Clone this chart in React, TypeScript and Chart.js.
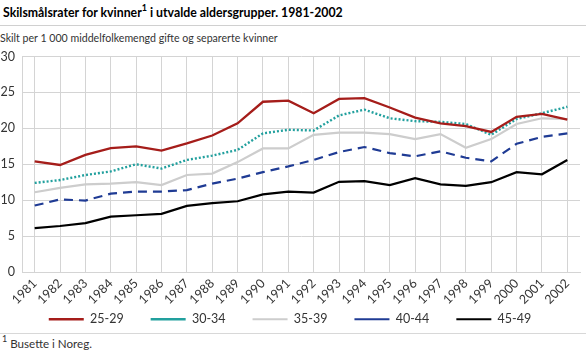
import React, { useEffect, useRef } from "react";
import { Chart, registerables } from "chart.js";

Chart.register(...registerables);

const years = ["1981","1982","1983","1984","1985","1986","1987","1988","1989","1990","1991","1992","1993","1994","1995","1996","1997","1998","1999","2000","2001","2002"];
const age2529 = [15.4,14.9,16.3,17.25,17.5,16.9,17.9,19.0,20.7,23.7,23.85,22.1,24.1,24.2,22.9,21.5,20.7,20.3,19.5,21.6,22.0,21.2];
const age3034 = [12.4,12.8,13.5,14.0,15.0,14.4,15.6,16.2,17.0,19.3,19.8,19.7,21.8,22.6,21.4,21.0,20.9,20.6,19.1,21.3,22.1,23.0];
const age3539 = [11.1,11.7,12.2,12.3,12.5,12.1,13.5,13.7,15.3,17.2,17.2,19.1,19.4,19.4,19.2,18.5,19.2,17.3,18.5,20.6,21.4,21.3];
const age4044 = [9.25,10.1,9.95,10.9,11.2,11.2,11.4,12.3,13.0,13.9,14.7,15.6,16.7,17.4,16.55,16.1,16.8,15.9,15.4,17.85,18.8,19.3];
const age4549 = [6.1,6.4,6.8,7.7,7.9,8.1,9.2,9.6,9.85,10.8,11.2,11.05,12.55,12.65,12.1,13.05,12.2,12.0,12.5,13.9,13.6,15.6];
const yTicks = [0, 5, 10, 15, 20, 25, 30];

const FONT = "Lato, 'Open Sans', 'DejaVu Sans', sans-serif";

// Places the legend row a fixed distance below the plot area.
const legendPlace = {
  id: "legendPlace",
  afterLayout(chart: any) {
    const lg = chart.legend;
    if (!lg) return;
    const pad = lg.options.labels.padding;
    const top = chart.chartArea.bottom + 41 - pad;
    lg.top = top;
    lg.height = 70;
    lg.bottom = top + 70;
  },
};

export default function App() {
  const ref = useRef<HTMLCanvasElement>(null);
  useEffect(() => {
    const ctx = ref.current!;
    const mk = (label: string, data: number[], color: string, dash: number[], width: number) => ({
      label, data, borderColor: color, backgroundColor: color, borderDash: dash, borderWidth: width,
      pointRadius: 0, pointHoverRadius: 0, tension: 0, fill: false,
    });
    const chart = new Chart(ctx, {
      type: "line",
      data: {
        labels: years,
        datasets: [
          mk("25-29", age2529, "#a51d1a", [], 2.3),
          mk("30-34", age3034, "#22a09e", [2, 2], 2.4),
          mk("35-39", age3539, "#cdcdcd", [], 2.2),
          mk("40-44", age4044, "#1f3b94", [9, 6], 2.2),
          mk("45-49", age4549, "#000000", [], 2.2),
        ],
      },
      plugins: [legendPlace],
      options: {
        animation: false,
        responsive: false,
        maintainAspectRatio: false,
        layout: { padding: { top: 3, right: 6, left: 0, bottom: 0 } },
        plugins: {
          title: { display: false },
          tooltip: { enabled: false },
          legend: {
            position: "bottom",
            maxHeight: 20,
            labels: {
              usePointStyle: true,
              pointStyle: "line",
              pointStyleWidth: 35,
              color: "#333",
              font: { family: FONT, size: 12.5 },
              padding: 27,
            },
          },
        },
        scales: {
          x: {
            offset: true,
            afterFit: (s: any) => { s.height = 36; },
            grid: { color: "#d4d4d4", offset: false, drawTicks: false, lineWidth: 1 },
            border: { color: "#d4d4d4" },
            ticks: {
              color: "#333",
              font: { family: FONT, size: 12.5 },
              minRotation: 45,
              maxRotation: 45,
              padding: 4,
              autoSkip: false,
            },
          },
          y: {
            min: 0,
            max: 30,
            afterFit: (s: any) => { s.width = 22; },
            afterBuildTicks: (s: any) => { s.ticks = yTicks.map((v) => ({ value: v })); },
            grid: { color: "#d4d4d4", drawTicks: false, lineWidth: 1 },
            border: { color: "#d4d4d4" },
            ticks: { color: "#333", font: { family: FONT, size: 12.5 }, padding: 7 },
          },
        },
      },
    });
    return () => chart.destroy();
  }, []);

  return (
    <div style={{ position: "fixed", left: 0, top: 0, width: 586, height: 354, overflow: "hidden", background: "#fff", fontFamily: FONT, color: "#000" }}>
      <div style={{ position: "absolute", left: 3, top: 5, fontSize: 12.3, fontWeight: 700, whiteSpace: "nowrap", lineHeight: "16px" }}>
        Skilsmålsrater for kvinner<sup style={{ fontSize: 9, verticalAlign: "top", lineHeight: "10px", position: "relative", top: -2 }}>1</sup> i utvalde aldersgrupper. 1981-2002
      </div>
      <div style={{ position: "absolute", left: 0, top: 25, width: 586, height: 1, background: "#d0d0d0" }} />
      <div style={{ position: "absolute", left: 0, top: 31, fontSize: 10.6, color: "#333", whiteSpace: "nowrap", lineHeight: "14px" }}>
        Skilt per 1 000 middelfolkemengd gifte og separerte kvinner
      </div>
      <canvas ref={ref} width={586} height={286} style={{ position: "absolute", left: 0, top: 42, width: 586, height: 286 }} />
      <div style={{ position: "absolute", left: 0, top: 333, width: 586, height: 1, background: "#d8d8d8" }} />
      <div style={{ position: "absolute", left: 2, top: 337, fontSize: 11.6, color: "#333", whiteSpace: "nowrap", lineHeight: "14px" }}>
        <sup style={{ fontSize: 9, verticalAlign: "top", lineHeight: "10px", position: "relative", top: -3 }}>1</sup> Busette i Noreg.
      </div>
    </div>
  );
}
